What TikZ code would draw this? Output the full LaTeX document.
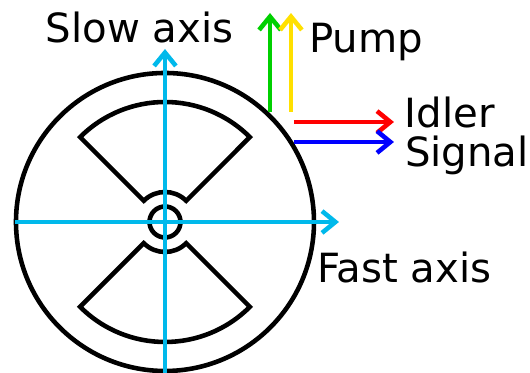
\documentclass[tikz,border=0pt]{standalone}
\usepackage{fontspec}
\setmainfont{DejaVu Sans}
\usepackage{xcolor}
\usetikzlibrary{arrows.meta}
\definecolor{axiscyan}{RGB}{0,185,235}
\definecolor{pumpgreen}{RGB}{0,208,0}
\definecolor{pumpyellow}{RGB}{255,224,0}

\begin{document}
\begin{tikzpicture}[>={Straight Barb[length=3.8pt,width=6.2pt,line width=1.3pt]},
  part/.style={draw,line width=1.3pt},
  beam/.style={->,line width=1.3pt},
  lbl/.style={anchor=base west,inner sep=0pt,font=\fontsize{11.45}{13}\selectfont}]
\useasboundingbox (-1.65,-1.51) rectangle (3.65,2.22);
% fibre cross-section
\draw[part] (0,0) circle (1.49);
\draw[part] (0,0) circle (0.155);
\draw[part,line join=miter] (135:0.3) arc (135:45:0.3) -- (45:1.2) arc (45:135:1.2) -- cycle;
\draw[part,line join=miter] (-135:0.3) arc (-135:-45:0.3) -- (-45:1.2) arc (-45:-135:1.2) -- cycle;
% axes
\coordinate (slowS) at (0,-1.51);
\coordinate (slowE) at (0,1.73);
\coordinate (fastS) at (-1.5,0);
\coordinate (fastE) at (1.74,0);
\draw[beam,axiscyan] (slowS) -- (slowE);
\draw[beam,axiscyan] (fastS) -- (fastE);
% beams
\coordinate (greenS) at (1.05,1.10);
\coordinate (greenE) at (1.05,2.09);
\coordinate (yellowS) at (1.26,1.10);
\coordinate (yellowE) at (1.26,2.09);
\coordinate (redS) at (1.29,1.00);
\coordinate (redE) at (2.29,1.00);
\coordinate (blueS) at (1.29,0.80);
\coordinate (blueE) at (2.29,0.80);
\draw[beam,pumpgreen] (greenS) -- (greenE);
\draw[beam,pumpyellow] (yellowS) -- (yellowE);
\draw[beam,red] (redS) -- (redE);
\draw[beam,blue] (blueS) -- (blueE);
% labels
\node[lbl] (slow) at (-1.20,1.79) {Slow axis};
\node[lbl] (pump) at (1.435,1.69) {Pump};
\node[lbl] (idler) at (2.39,0.94) {Idler};
\node[lbl] (signal) at (2.395,0.55) {Signal};
\node[lbl] (fast) at (1.515,-0.61) {Fast axis};
\end{tikzpicture}
\end{document}
